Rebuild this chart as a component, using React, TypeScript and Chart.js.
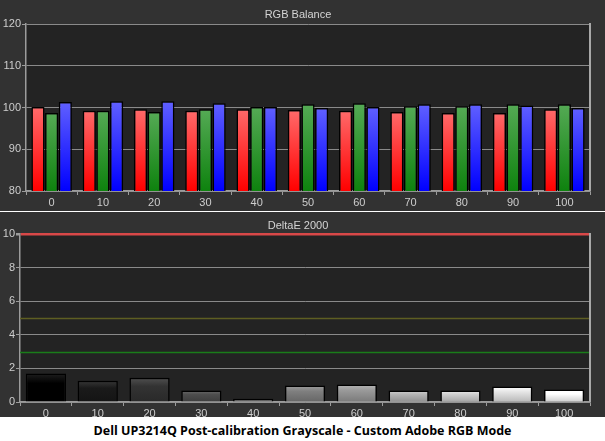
import React, { useEffect, useRef } from "react";
import { Chart, registerables } from "chart.js";

Chart.register(...registerables);

// ---- data ----
const categories = ["0", "10", "20", "30", "40", "50", "60", "70", "80", "90", "100"];
const grayLevels = [0, 10, 20, 30, 40, 50, 60, 70, 80, 90, 100];
const redValues = [100.1, 99.2, 99.6, 99.2, 99.6, 99.4, 99.2, 98.9, 98.7, 98.7, 99.6];
const greenValues = [98.7, 99.2, 98.9, 99.6, 100.1, 100.8, 101.0, 100.3, 100.3, 100.8, 100.8];
const blueValues = [101.3, 101.5, 101.5, 101.0, 100.1, 99.9, 100.1, 100.8, 100.8, 100.5, 99.9];
const deltaEValues = [1.7, 1.27, 1.45, 0.68, 0.2, 0.98, 1.04, 0.68, 0.68, 0.92, 0.74];
const rgbTicks = [80, 90, 100, 110, 120];
const deltaTicks = [0, 2, 4, 6, 8, 10];
const deltaLimit = 10;
const thresholdValues = [5, 3];
const rgbTitle = "RGB Balance";
const deltaTitle = "DeltaE 2000";
const caption = "Dell UP3214Q Post-calibration Grayscale - Custom Adobe RGB Mode";

// ---- styles ----
const FONT = "'Liberation Sans', Arial, sans-serif";
const PANEL_BG = "#323232";
const PLOT_BG = "#232323";
const GRID = "#8a8a8a";
const AXIS = "#9c9c9c";
const LABEL = "#cdcdcd";
const thresholdColors = ["#5e5e22", "#1a7c1a"];

const panelPlugin = (title: string, titleY: number, thresholds: boolean) => ({
  id: "panel" + title.replace(/\s/g, ""),
  beforeDraw(chart: any) {
    const { ctx, chartArea: a, width, height } = chart;
    ctx.save();
    ctx.fillStyle = PANEL_BG;
    ctx.fillRect(0, 0, width, height);
    ctx.fillStyle = PLOT_BG;
    ctx.fillRect(a.left, a.top, a.right - a.left, a.bottom - a.top);
    ctx.restore();
  },
  beforeDatasetsDraw(chart: any) {
    if (!thresholds) return;
    const { ctx, chartArea: a } = chart;
    const y = chart.scales.y;
    ctx.save();
    thresholdValues.forEach((v, i) => {
      const py = Math.round(y.getPixelForValue(v)) + 0.5;
      ctx.strokeStyle = thresholdColors[i];
      ctx.lineWidth = 1.5;
      ctx.beginPath();
      ctx.moveTo(a.left, py);
      ctx.lineTo(a.right, py);
      ctx.stroke();
    });
    ctx.restore();
  },
  afterDraw(chart: any) {
    const { ctx, chartArea: a } = chart;
    ctx.save();
    ctx.strokeStyle = "#a8a8a8";
    ctx.lineWidth = 2;
    ctx.beginPath();
    ctx.moveTo(a.right, a.top - 1);
    ctx.lineTo(a.right, a.bottom);
    ctx.stroke();
    ctx.fillStyle = "#d4d4d4";
    ctx.font = `11px ${FONT}`;
    ctx.textAlign = "center";
    ctx.textBaseline = "middle";
    ctx.fillText(title, 298, titleY);
    ctx.restore();
  },
});

function vGrad(ctx: any, top: string, bottom: string, soft?: string) {
  const chart = ctx.chart;
  const a = chart.chartArea;
  if (!a || ctx.raw === undefined) return bottom;
  const y0 = chart.scales.y.getPixelForValue(ctx.raw);
  const g = chart.ctx.createLinearGradient(0, y0, 0, a.bottom);
  g.addColorStop(0, top);
  if (soft) g.addColorStop(0.35, soft);
  g.addColorStop(1, bottom);
  return g;
}

function grayColor(ctx: any) {
  const level = grayLevels[ctx.dataIndex] ?? 0;
  const base = level * 2.55;
  const c = (v: number) => {
    const n = Math.max(0, Math.min(255, Math.round(v)));
    return `rgb(${n},${n},${n})`;
  };
  return vGrad(ctx, c(base + 30), c(base * 0.8), c(base));
}

const xAxis = (h: number) => ({
  type: "category" as const,
  offset: true,
  afterFit: (s: any) => {
    s.height = h;
  },
  grid: {
    offset: true,
    drawOnChartArea: false,
    drawTicks: true,
    tickLength: 4,
    tickColor: AXIS,
  },
  border: { display: true, color: AXIS, width: 1.5 },
  ticks: { color: LABEL, font: { family: FONT, size: 11 }, padding: 1, maxRotation: 0 },
});

export default function App() {
  const topRef = useRef<HTMLCanvasElement>(null);
  const botRef = useRef<HTMLCanvasElement>(null);

  useEffect(() => {
    const top = new Chart(topRef.current!, {
      type: "bar",
      data: {
        labels: categories,
        datasets: [
          {
            label: "Red",
            data: redValues,
            backgroundColor: (c: any) => vGrad(c, "#ff6a6a", "#ff0000"),
            borderColor: "#000",
            borderWidth: 1.5,
          },
          {
            label: "Green",
            data: greenValues,
            backgroundColor: (c: any) => vGrad(c, "#55aa55", "#0e820e"),
            borderColor: "#000",
            borderWidth: 1.5,
          },
          {
            label: "Blue",
            data: blueValues,
            backgroundColor: (c: any) => vGrad(c, "#6060ff", "#0000ff"),
            borderColor: "#000",
            borderWidth: 1.5,
          },
        ],
      },
      options: {
        responsive: false,
        animation: false,
        layout: { padding: { top: 24, right: 15, left: 0, bottom: 0 } },
        datasets: { bar: { categoryPercentage: 0.8, barPercentage: 0.96 } },
        plugins: { legend: { display: false }, tooltip: { enabled: false }, title: { display: false } },
        scales: {
          x: xAxis(20),
          y: {
            min: 80,
            max: 120,
            afterBuildTicks: (s: any) => {
              s.ticks = rgbTicks.map((v) => ({ value: v }));
            },
            afterFit: (s: any) => {
              s.width = 26;
            },
            grid: { color: GRID, tickColor: AXIS, tickLength: 4, lineWidth: 1 },
            border: { display: true, color: AXIS, width: 1.5 },
            ticks: { color: LABEL, font: { family: FONT, size: 11 }, padding: 1 },
          },
        },
      } as any,
      plugins: [panelPlugin(rgbTitle, 15, false)],
    });

    const bot = new Chart(botRef.current!, {
      type: "bar",
      data: {
        labels: categories,
        datasets: [
          {
            label: "DeltaE 2000",
            data: deltaEValues,
            backgroundColor: grayColor,
            borderColor: "#000",
            borderWidth: 1.5,
          },
        ],
      },
      options: {
        responsive: false,
        animation: false,
        layout: { padding: { top: 22, right: 15, left: 0, bottom: 0 } },
        datasets: { bar: { categoryPercentage: 0.8, barPercentage: 0.97 } },
        plugins: { legend: { display: false }, tooltip: { enabled: false }, title: { display: false } },
        scales: {
          x: xAxis(15),
          y: {
            min: 0,
            max: deltaLimit,
            afterBuildTicks: (s: any) => {
              s.ticks = deltaTicks.map((v) => ({ value: v }));
            },
            afterFit: (s: any) => {
              s.width = 20;
            },
            grid: {
              color: (c: any) => (c.tick && c.tick.value === deltaLimit ? "#d84848" : GRID),
              lineWidth: (c: any) => (c.tick && c.tick.value === deltaLimit ? 2.5 : 1),
              tickColor: AXIS,
              tickLength: 4,
            },
            border: { display: true, color: AXIS, width: 1.5 },
            ticks: { color: LABEL, font: { family: FONT, size: 11 }, padding: 1 },
          },
        },
      } as any,
      plugins: [panelPlugin(deltaTitle, 14, true)],
    });

    return () => {
      top.destroy();
      bot.destroy();
    };
  }, []);

  return (
    <div
      style={{
        position: "absolute",
        left: 0,
        top: 0,
        width: 605,
        height: 441,
        background: "#fff",
        overflow: "hidden",
      }}
    >
      <canvas
        ref={topRef}
        width={605}
        height={211}
        style={{ position: "absolute", left: 0, top: 0, width: 605, height: 211 }}
      />
      <canvas
        ref={botRef}
        width={605}
        height={205}
        style={{ position: "absolute", left: 0, top: 212, width: 605, height: 205 }}
      />
      <div
        style={{
          position: "absolute",
          left: 0,
          top: 420,
          width: 605,
          height: 21,
          lineHeight: "21px",
          textAlign: "center",
          fontFamily: "'Open Sans', sans-serif",
          fontWeight: 700,
          fontSize: 12.5,
          color: "#000",
          whiteSpace: "nowrap",
        }}
      >
        {caption}
      </div>
    </div>
  );
}
